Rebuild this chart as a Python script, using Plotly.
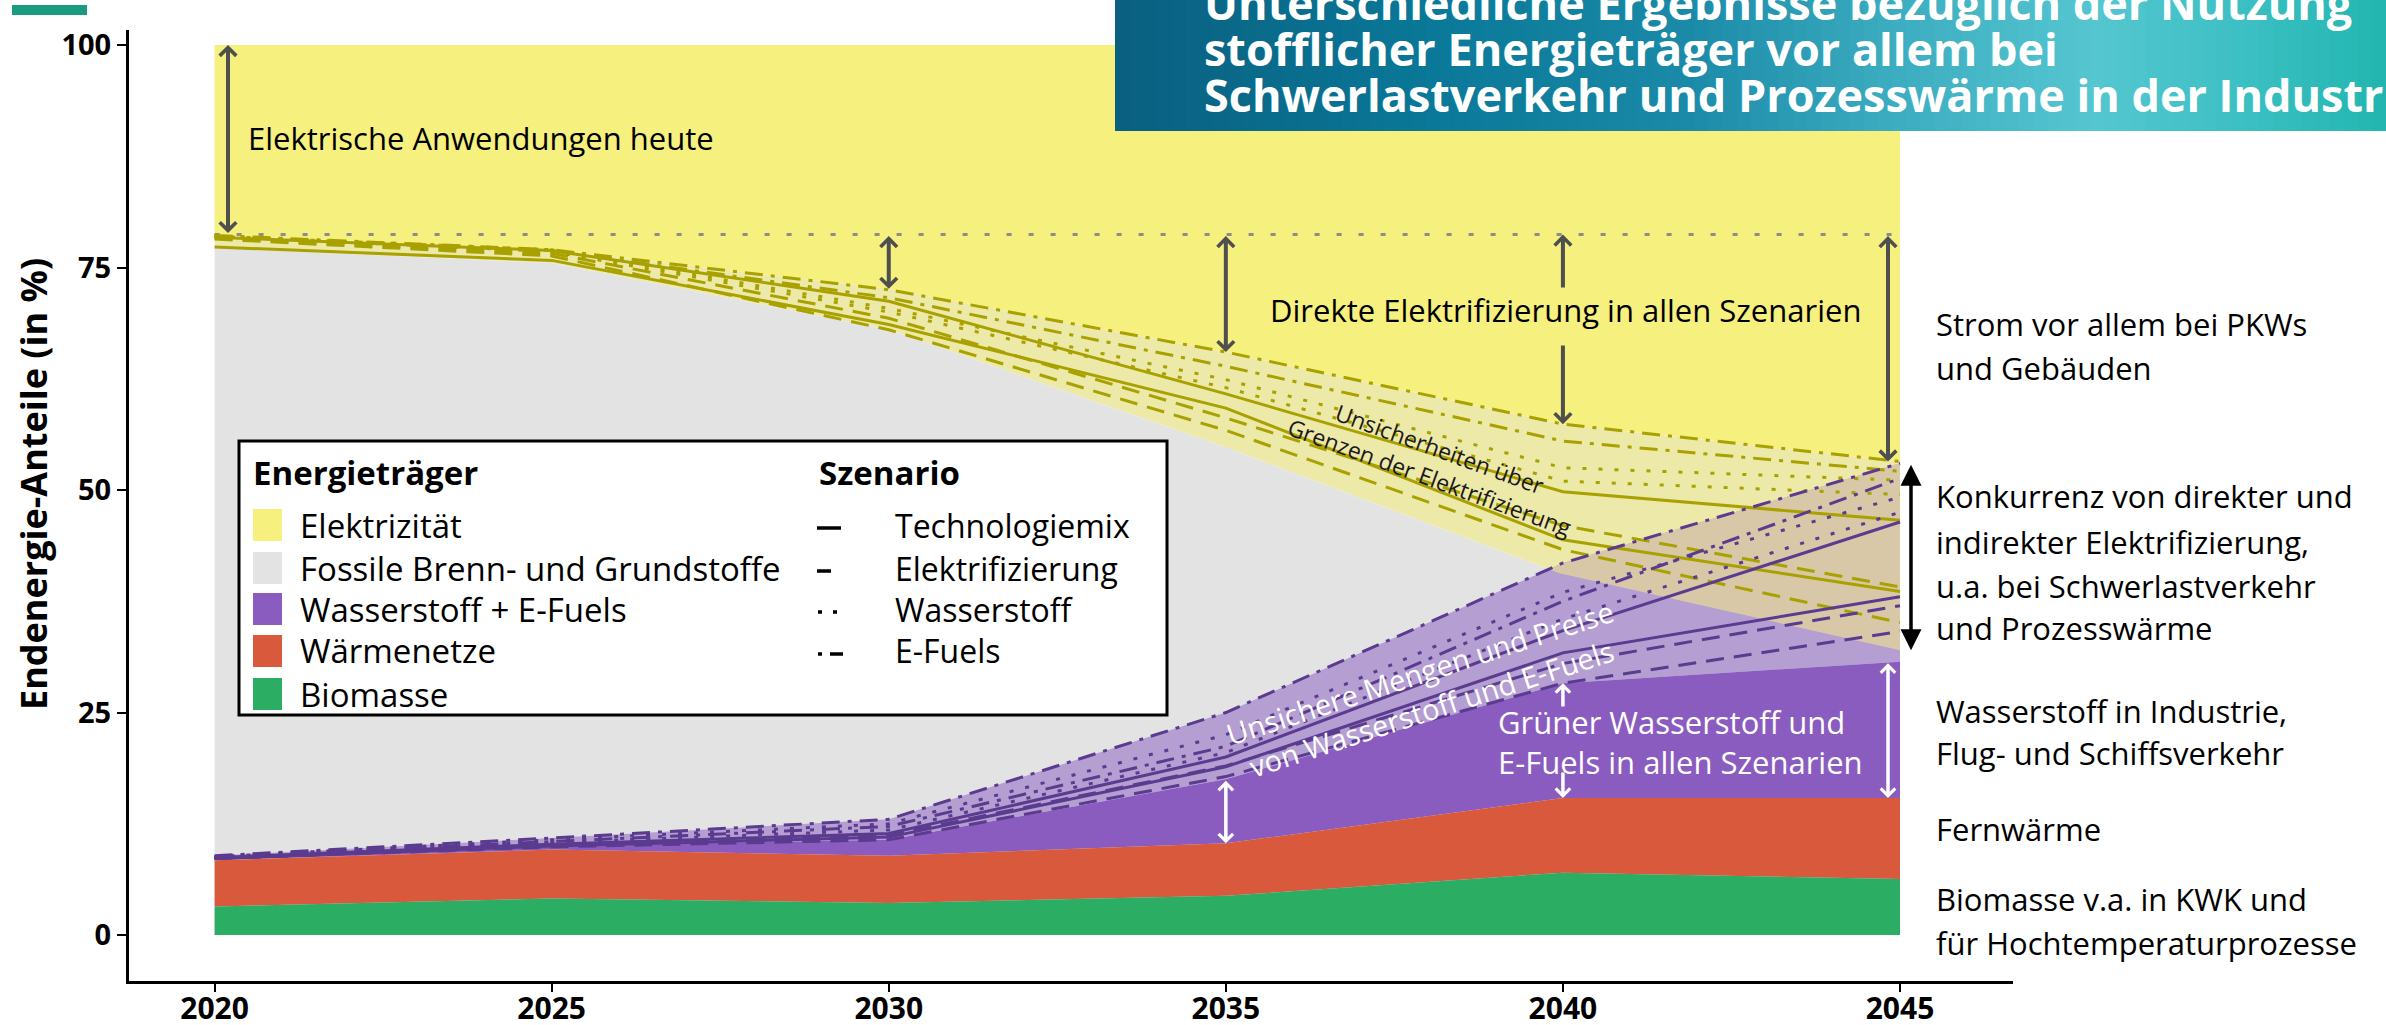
import numpy as np
import plotly.graph_objects as go

# ---------------- Daten ----------------
jahre = [2020, 2025, 2030, 2035, 2040, 2045]
y_ticks = [0, 25, 50, 75, 100]
biomasse = [3.2, 4.1, 3.6, 4.4, 7.0, 6.3]
waermenetze = [5.2, 5.5, 5.3, 5.9, 8.4, 9.1]
wasserstoff_sicher = [0.3, 0.4, 1.8, 7.2, 12.9, 15.3]
wasserstoff_band_oben = [8.9, 10.9, 13.0, 25.0, 41.8, 53.0]
strom_band_oben = [78.7, 77.0, 72.6, 65.5, 57.4, 53.2]
strom_band_unten = [77.2, 75.5, 68.0, 54.8, 40.5, 32.0]
strom_heute = 78.7
gesamt = 100

# Szenario-Linien (kumulierte Grenzen, je zwei Modelle)
strom_technologiemix = [[78.4, 76.9, 71.2, 60.8, 49.8, 46.6], [77.3, 75.8, 68.6, 59.2, 44.4, 38.6]]
strom_elektrifizierung = [[78.2, 76.3, 68.0, 56.7, 43.3, 35.1], [78.3, 76.6, 69.3, 58.1, 46.0, 39.1]]
strom_wasserstoff = [[78.5, 77.0, 70.4, 62.4, 52.5, 51.1], [78.5, 76.8, 70.0, 61.5, 51.0, 49.5]]
strom_efuels = [[78.6, 77.0, 72.5, 65.5, 57.4, 53.2], [78.5, 76.9, 71.6, 63.9, 55.5, 52.1]]
h2_technologiemix = [[8.7, 10.2, 11.4, 20.0, 34.2, 46.4], [8.6, 10.0, 11.0, 18.9, 31.7, 38.0]]
h2_elektrifizierung = [[8.6, 9.9, 10.7, 17.8, 28.3, 34.1], [8.6, 10.1, 11.2, 19.0, 30.5, 37.0]]
h2_wasserstoff = [[8.8, 10.7, 12.5, 22.5, 38.5, 49.2], [8.7, 10.4, 11.8, 20.5, 35.5, 47.5]]
h2_efuels = [[8.9, 10.9, 13.0, 25.0, 41.8, 53.0], [8.8, 10.5, 12.2, 21.2, 37.5, 51.3]]

energietraeger = ["Elektrizität", "Fossile Brenn- und Grundstoffe", "Wasserstoff + E-Fuels",
                  "Wärmenetze", "Biomasse"]
szenarien = ["Technologiemix", "Elektrifizierung", "Wasserstoff", "E-Fuels"]

# ---------------- Stil ----------------
GELB = "#f6f07e"
GELB_HELL = "#ede9a9"
GRAU = "#e3e3e3"
LILA_HELL = "#b49ed2"
BEIGE = "#d8c8a7"
LILA = "#8a5cbf"
ROT = "#d9593c"
GRUEN = "#2bae64"
OLIV = "#a8a100"
LILA_DUNKEL = "#5b3b8f"
PFEIL_GRAU = "#4f4f4f"
FONT = "Open Sans"

DASH = {"Technologiemix": "solid", "Elektrifizierung": "18px,10px",
        "Wasserstoff": "4px,12px", "E-Fuels": "18px,8px,4px,8px"}

W, H = 2386, 1025
X_LEFT, X_RIGHT, Y_TOP, Y_BOTTOM = 129, 2013, 30, 981
X2020_PX, PX_YEAR = 214.6, 67.416
Y0_PX, PX_PCT = 935, 8.9
XMIN = 2020 - (X2020_PX - X_LEFT) / PX_YEAR
XMAX = 2020 + (X_RIGHT - X2020_PX) / PX_YEAR
YMIN = -(Y_BOTTOM - Y0_PX) / PX_PCT
YMAX = (Y0_PX - Y_TOP) / PX_PCT


def dx(px):
    return 2020 + (px - X2020_PX) / PX_YEAR


def dy(py):
    return (Y0_PX - py) / PX_PCT


def pxp(px):
    return (px - X_LEFT) / (X_RIGHT - X_LEFT)


def pyp(py):
    return (Y_BOTTOM - py) / (Y_BOTTOM - Y_TOP)


fig = go.Figure()


def polygon(xs, lo, hi, color):
    xs = list(xs)
    fig.add_trace(go.Scatter(x=xs + xs[::-1], y=list(hi) + list(lo)[::-1], fill="toself",
                             fillcolor=color, mode="lines", line=dict(width=0),
                             hoverinfo="skip", showlegend=False))


n = len(jahre)
bio_top = np.array(biomasse)
waerme_top = bio_top + np.array(waermenetze)
h2_top = waerme_top + np.array(wasserstoff_sicher)

polygon(jahre, strom_band_oben, [gesamt] * n, GELB)
polygon(jahre, strom_band_unten, strom_band_oben, GELB_HELL)
polygon(jahre, [0] * n, strom_band_unten, GRAU)
polygon(jahre, h2_top, wasserstoff_band_oben, LILA_HELL)

# Überlappung (Konkurrenz direkte / indirekte Elektrifizierung)
xs = np.linspace(jahre[0], jahre[-1], 2501)
lo = np.interp(xs, jahre, strom_band_unten)
hi = np.minimum(np.interp(xs, jahre, wasserstoff_band_oben), np.interp(xs, jahre, strom_band_oben))
m = hi > lo
polygon(xs[m], lo[m], hi[m], BEIGE)

polygon(jahre, waerme_top, h2_top, LILA)
polygon(jahre, bio_top, waerme_top, ROT)
polygon(jahre, [0] * n, bio_top, GRUEN)

# heutiger Stromanteil
fig.add_trace(go.Scatter(x=[jahre[0], jahre[-1]], y=[strom_heute, strom_heute], mode="lines",
                         line=dict(color="#8c8c8c", width=3, dash="5px,17px"),
                         hoverinfo="skip", showlegend=False))

for name, series, color in [
    ("Technologiemix", strom_technologiemix, OLIV), ("Elektrifizierung", strom_elektrifizierung, OLIV),
    ("Wasserstoff", strom_wasserstoff, OLIV), ("E-Fuels", strom_efuels, OLIV),
    ("Technologiemix", h2_technologiemix, LILA_DUNKEL), ("Elektrifizierung", h2_elektrifizierung, LILA_DUNKEL),
    ("Wasserstoff", h2_wasserstoff, LILA_DUNKEL), ("E-Fuels", h2_efuels, LILA_DUNKEL)]:
    for vals in series:
        fig.add_trace(go.Scatter(x=jahre, y=vals, mode="lines",
                                 line=dict(color=color, width=3, dash=DASH[name]),
                                 hoverinfo="skip", showlegend=False))

shapes = []
annotations = []

# Titelbox mit Verlauf
stops = [(0.0, (10, 95, 128)), (0.25, (10, 120, 152)), (0.45, (26, 138, 168)),
         (0.6, (58, 170, 191)), (0.77, (85, 198, 208)), (0.88, (62, 192, 196)), (1.0, (34, 182, 176))]
bx0, bx1 = 1115, W
nstrip = 90
for i in range(nstrip):
    f = (i + 0.5) / nstrip
    for k in range(len(stops) - 1):
        if stops[k][0] <= f <= stops[k + 1][0]:
            t = (f - stops[k][0]) / (stops[k + 1][0] - stops[k][0])
            c = [round(a + (b - a) * t) for a, b in zip(stops[k][1], stops[k + 1][1])]
            break
    sx0 = bx0 + (bx1 - bx0) * i / nstrip
    sx1 = bx0 + (bx1 - bx0) * (i + 1) / nstrip + 1
    shapes.append(dict(type="rect", xref="paper", yref="paper", x0=pxp(sx0), x1=pxp(sx1),
                       y0=pyp(131), y1=pyp(0), fillcolor="rgb(%d,%d,%d)" % tuple(c),
                       line=dict(width=0), layer="above"))

shapes.append(dict(type="rect", xref="paper", yref="paper", x0=pxp(12), x1=pxp(87),
                   y0=pyp(15), y1=pyp(5), fillcolor="#1a9b80", line=dict(width=0)))

titel = ["Unterschiedliche Ergebnisse bezüglich der Nutzung",
         "stofflicher Energieträger vor allem bei",
         "Schwerlastverkehr und Prozesswärme in der Industrie"]
for i, t in enumerate(titel):
    annotations.append(dict(text="<b>%s</b>" % t, xref="paper", yref="paper", x=pxp(1202),
                            y=pyp(3 + 45.7 * i), xanchor="left", yanchor="middle", showarrow=False,
                            font=dict(family=FONT, size=45, color="white")))

# Legende
shapes.append(dict(type="rect", xref="paper", yref="paper", x0=pxp(239), x1=pxp(1167),
                   y0=pyp(715), y1=pyp(441), fillcolor="white", line=dict(color="black", width=3)))
rows = [525, 568, 609, 651, 694]
leg_cols = [GELB, GRAU, LILA, ROT, GRUEN]
annotations.append(dict(text="<b>Energieträger</b>", xref="paper", yref="paper", x=pxp(251), y=pyp(472),
                        xanchor="left", yanchor="middle", showarrow=False,
                        font=dict(family=FONT, size=33, color="black")))
annotations.append(dict(text="<b>Szenario</b>", xref="paper", yref="paper", x=pxp(817), y=pyp(472),
                        xanchor="left", yanchor="middle", showarrow=False,
                        font=dict(family=FONT, size=33, color="black")))
for r, lab, col in zip(rows, energietraeger, leg_cols):
    shapes.append(dict(type="rect", xref="paper", yref="paper", x0=pxp(253), x1=pxp(282),
                       y0=pyp(r + 16), y1=pyp(r - 16), fillcolor=col, line=dict(width=0)))
    annotations.append(dict(text=lab, xref="paper", yref="paper", x=pxp(298), y=pyp(r),
                            xanchor="left", yanchor="middle", showarrow=False,
                            font=dict(family=FONT, size=33, color="black")))
sym_segments = {
    "Technologiemix": [(817, 841)],
    "Elektrifizierung": [(817, 831)],
    "Wasserstoff": [(818, 822), (833, 837)],
    "E-Fuels": [(818, 822), (830, 843)],
}
for r, sz in zip(rows, szenarien):
    for a, b in sym_segments[sz]:
        shapes.append(dict(type="line", xref="paper", yref="paper", x0=pxp(a), x1=pxp(b),
                           y0=pyp(r + 3), y1=pyp(r + 3), line=dict(color="black", width=3.5)))
    annotations.append(dict(text=sz, xref="paper", yref="paper", x=pxp(893), y=pyp(r),
                            xanchor="left", yanchor="middle", showarrow=False,
                            font=dict(family=FONT, size=32, color="black")))


def text(t, px, py, size=31, color="black", anchor="left", angle=0, align="left"):
    annotations.append(dict(text=t, xref="paper", yref="paper", x=pxp(px), y=pyp(py),
                            xanchor=anchor, yanchor="middle", showarrow=False, textangle=angle,
                            align=align, font=dict(family=FONT, size=size, color=color)))


text("Elektrische Anwendungen heute", 246, 138)
text("Direkte Elektrifizierung in allen Szenarien", 1268, 310)
text("Grüner Wasserstoff und<br>E-Fuels in allen Szenarien", 1496, 742, color="white")
text("Unsicherheiten über<br>Grenzen der Elektrifizierung", 1435, 463, size=23, color="#1a1a1a",
     anchor="center", angle=20, align="center")
text("Unsichere Mengen und Preise<br>von Wasserstoff und E-Fuels", 1425, 690, size=29, color="white",
     anchor="center", angle=-18, align="center")

rechts = [("Strom vor allem bei PKWs", 324), ("und Gebäuden", 368),
          ("Konkurrenz von direkter und", 496), ("indirekter Elektrifizierung,", 542),
          ("u.a. bei Schwerlastverkehr", 586), ("und Prozesswärme", 628),
          ("Wasserstoff in Industrie,", 711), ("Flug- und Schiffsverkehr", 753),
          ("Fernwärme", 829),
          ("Biomasse v.a. in KWK und", 899), ("für Hochtemperaturprozesse", 943)]
for t, py in rechts:
    text(t, 1934, py)

# Y-Achsentitel
annotations.append(dict(text="<b>Endenergie-Anteile (in %)</b>", xref="paper", yref="paper",
                        x=pxp(33), y=pyp(484), xanchor="center", yanchor="middle", showarrow=False,
                        textangle=-90, font=dict(family=FONT, size=36, color="black")))


def arrow(x, y_head, y_tail, color=PFEIL_GRAU, width=4, head=4, size=0.8, both=True):
    annotations.append(dict(x=x, y=y_head, ax=x, ay=y_tail, xref="x", yref="y", axref="x", ayref="y",
                            text="", showarrow=True, arrowhead=head, startarrowhead=head,
                            arrowsize=size, startarrowsize=size, arrowwidth=width,
                            arrowcolor=color, arrowside="end+start" if both else "end"))


arrow(dx(228), gesamt, strom_heute)
arrow(jahre[2], strom_band_oben[2], strom_heute)
arrow(jahre[3], strom_band_oben[3], strom_heute)
arrow(jahre[4], strom_heute, dy(289), both=False)
arrow(jahre[4], strom_band_oben[4], dy(344), both=False)
arrow(dx(1888), strom_band_oben[5], strom_heute)
arrow(dx(1911), strom_band_unten[5], wasserstoff_band_oben[5], color="black", width=3.5, head=2, size=1.2)
arrow(jahre[3], waerme_top[3], h2_top[3], color="white", width=3.5)
arrow(jahre[4], h2_top[4], dy(708), color="white", width=3.5, both=False)
arrow(jahre[4], waerme_top[4], dy(771), color="white", width=3.5, both=False)
arrow(dx(1888), waerme_top[5], h2_top[5], color="white", width=3.5)

fig.update_layout(
    width=W, height=H, autosize=False,
    margin=dict(l=X_LEFT, r=W - X_RIGHT, t=Y_TOP, b=H - Y_BOTTOM, autoexpand=False),
    paper_bgcolor="white", plot_bgcolor="white",
    showlegend=False, hovermode=False,
    shapes=shapes, annotations=annotations,
    xaxis=dict(range=[XMIN, XMAX], tickvals=jahre, ticktext=[str(j) for j in jahre],
               ticks="outside", ticklen=8, tickwidth=2, tickcolor="black", automargin=False,
               ticklabelstandoff=-9,
               showline=True, linewidth=3, linecolor="black", showgrid=False, zeroline=False,
               tickfont=dict(family=FONT, size=30, color="black", weight="bold")),
    yaxis=dict(range=[YMIN, YMAX], tickvals=y_ticks, ticks="outside", ticklen=9, tickwidth=2,
               tickcolor="black", showline=True, linewidth=3, linecolor="black", showgrid=False,
               automargin=False, zeroline=False,
               tickfont=dict(family=FONT, size=29, color="black", weight="bold")),
)

fig.write_html("out.html", config={"displayModeBar": False},
               post_script="document.body.style.margin='0px';document.body.style.overflow='hidden';")
